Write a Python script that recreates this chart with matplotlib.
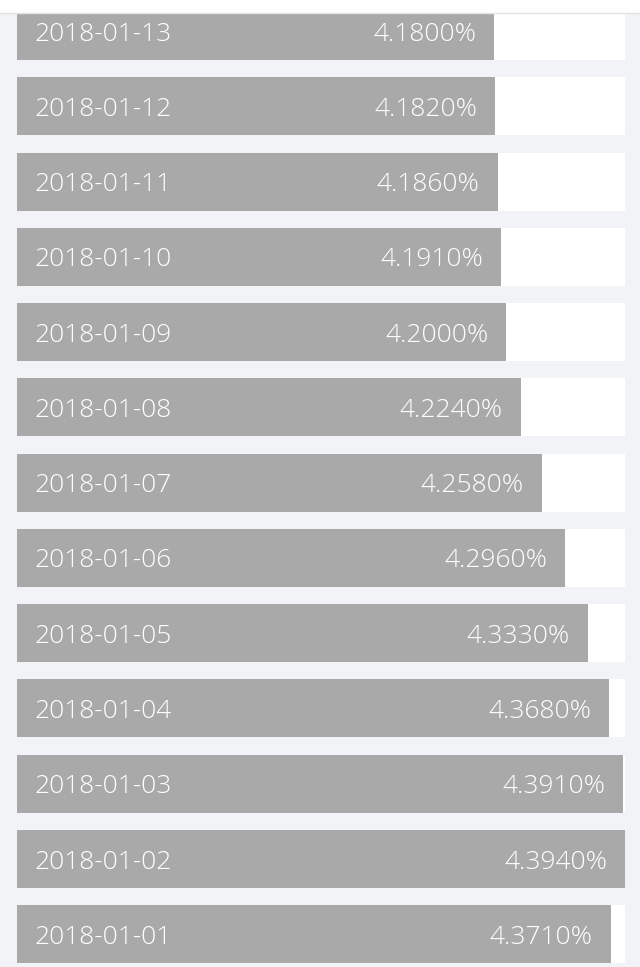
import numpy as np
import matplotlib
matplotlib.use("Agg")
import matplotlib.pyplot as plt

# values, bottom row first
dates = ["2018-01-01", "2018-01-02", "2018-01-03", "2018-01-04", "2018-01-05",
         "2018-01-06", "2018-01-07", "2018-01-08", "2018-01-09", "2018-01-10",
         "2018-01-11", "2018-01-12", "2018-01-13"]
rates = [4.371, 4.394, 4.391, 4.368, 4.333, 4.296, 4.258, 4.224, 4.200, 4.191,
         4.186, 4.182, 4.180]
base = 3.40

bg = "#f1f3f6"
bar_color = "#a9a9a9"

W, H, DPI = 640, 967, 100
fig = plt.figure(figsize=(W / DPI, H / DPI), dpi=DPI, facecolor="white")

top_px = 13
ax = fig.add_axes([0, 0, 1, (H - top_px) / H])
ax.set_facecolor(bg)
for s in ax.spines.values():
    s.set_visible(False)
ax.set_xticks([])
ax.set_yticks([])

# thin line under the white strip at the top
fig.add_artist(plt.Line2D([0, 1], [(H - top_px) / H] * 2, color="#e3e3e3", lw=1))

vmax = max(rates)
px_per_unit = 608 / (vmax - base)
ax.set_xlim(base - 17 / px_per_unit, vmax + 15 / px_per_unit)

pitch = 75.27
ax.set_ylim(-32.7 / pitch, len(dates) - 1 + 18 / pitch)

y = np.arange(len(dates))
bar_h = 58 / pitch
ax.barh(y, vmax - base, left=base, height=bar_h, color="white", zorder=1)
ax.barh(y, np.array(rates) - base, left=base, height=bar_h, color=bar_color, zorder=2)

pad = 18 * 72 / DPI
font = dict(family=["Open Sans", "DejaVu Sans"], fontweight="light", fontsize=19, color="white")
for i, (d, r) in enumerate(zip(dates, rates)):
    ax.annotate(d, xy=(base, i), xytext=(pad, 0), textcoords="offset points",
                ha="left", va="center_baseline", zorder=3, **font)
    ax.annotate(f"{r:.4f}%", xy=(r, i), xytext=(-pad, 0), textcoords="offset points",
                ha="right", va="center_baseline", zorder=3, **font)

fig.savefig("out.png", dpi=DPI, facecolor=fig.get_facecolor())
